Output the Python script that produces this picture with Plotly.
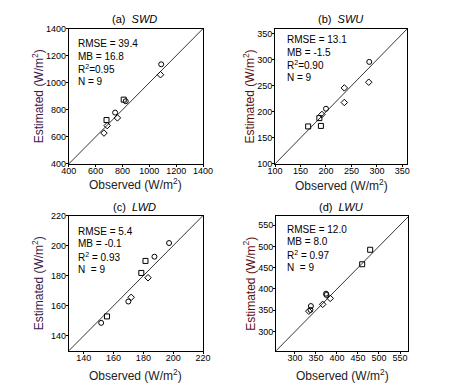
import plotly.graph_objects as go

# the page body has an 8px margin, so the figure is drawn 8px in from the corner
OFF = 8
W, H = 452 - OFF, 387 - OFF

# ---------------- data ----------------
swd_obs = [1088, 1083, 809, 824, 745, 762, 681, 686, 662]
swd_est = [1136, 1059, 875, 863, 779, 740, 724, 683, 628]
swd_sym = ["circle", "diamond", "square", "circle", "circle", "diamond", "square", "diamond", "diamond"]

swu_obs = [285, 284, 236, 236, 200, 192, 187, 190, 165]
swu_est = [296, 257, 246, 218, 206, 195, 188, 173, 172]
swu_sym = ["circle", "diamond", "diamond", "diamond", "circle", "diamond", "square", "square", "square"]

lwd_obs = [197.2, 187.4, 181.4, 178.6, 183.1, 171.8, 169.9, 155.6, 151.7]
lwd_est = [201.7, 192.6, 189.8, 181.8, 178.6, 165.6, 162.8, 152.9, 148.6]
lwd_sym = ["circle", "circle", "square", "square", "diamond", "diamond", "circle", "square", "circle"]

lwu_obs = [479, 460, 374, 375, 384, 366, 338, 337, 333]
lwu_est = [492, 458, 389, 386, 378, 364, 360, 351, 348]
lwu_sym = ["square", "square", "circle", "circle", "diamond", "diamond", "circle", "circle", "diamond"]

panel_letters = ["(a)", "(b)", "(c)", "(d)"]
panel_names = ["SWD", "SWU", "LWD", "LWU"]
stats = [
    ["RMSE = 39.4", "MB = 16.8", "R<sup>2</sup>=0.95", "N = 9"],
    ["RMSE = 13.1", "MB = -1.5", "R<sup>2</sup>=0.90", "N = 9"],
    ["RMSE = 5.4", "MB = -0.1", "R<sup>2</sup> = 0.93", "N  = 9"],
    ["RMSE = 12.0", "MB = 8.0", "R<sup>2</sup> = 0.97", "N  = 9"],
]
ranges = [[400, 1400], [100, 360], [130, 220], [255, 570]]
tick_vals = [
    [400, 600, 800, 1000, 1200, 1400],
    [100, 150, 200, 250, 300, 350],
    [140, 160, 180, 200, 220],
    [300, 350, 400, 450, 500, 550],
]

obs_all = [swd_obs, swu_obs, lwd_obs, lwu_obs]
est_all = [swd_est, swu_est, lwd_est, lwu_est]
sym_all = [swd_sym, swu_sym, lwd_sym, lwu_sym]

# ---------------- layout (pixel boxes in the window) ----------------
boxes = [(63, 203, 24, 163), (278, 416, 24, 163), (63, 203, 216, 355), (279, 417, 217, 355)]
title_y = [14, 14, 207, 207]
xtitle_y = [184, 185, 380, 380]
ytitle_x = [31, 251, 31, 251]
ytitle_col = ["#3a1a48", "#5a1010", "#3a1a48", "#5a1010"]
stat_x = [71, 288, 71, 288]
stat_y0 = [39, 35, 232, 230]
stat_dy = 13.2

FONT = "Liberation Sans, Arial, sans-serif"

def px(x):
    return (x - OFF) / W

def py(y):
    return 1 - (y - OFF) / H

fig = go.Figure()
layout = dict(
    width=W, height=H, margin=dict(l=0, r=0, t=0, b=0),
    paper_bgcolor="white", plot_bgcolor="white", showlegend=False,
    font=dict(family=FONT, size=9, color="black"),
)
annotations = []

for i in range(4):
    xa = "x" if i == 0 else f"x{i+1}"
    ya = "y" if i == 0 else f"y{i+1}"
    xl, xr, yt, yb = boxes[i]
    r = ranges[i]
    # 1:1 line
    fig.add_trace(go.Scatter(x=r, y=r, mode="lines", line=dict(color="black", width=0.8),
                             xaxis=xa, yaxis=ya, hoverinfo="skip"))
    fig.add_trace(go.Scatter(x=obs_all[i], y=est_all[i], mode="markers",
                             marker=dict(symbol=[s + "-open" for s in sym_all[i]], size=5,
                                         color="black", line=dict(color="black", width=1)),
                             xaxis=xa, yaxis=ya))
    axcommon = dict(range=r, showgrid=False, zeroline=False, showline=True, mirror=True,
                    linecolor="black", linewidth=1, ticks="outside", ticklen=2,
                    tickcolor="black", tickvals=tick_vals[i],
                    tickfont=dict(family=FONT, size=9, color="black"))
    layout["xaxis" if i == 0 else f"xaxis{i+1}"] = dict(
        axcommon, domain=[px(xl), px(xr)], anchor=ya, ticklabelstandoff=-4)
    layout["yaxis" if i == 0 else f"yaxis{i+1}"] = dict(
        axcommon, domain=[py(yb), py(yt)], anchor=xa, ticklabelstandoff=-2)

    cx = (xl + xr) / 2
    annotations.append(dict(xref="paper", yref="paper", x=px(cx - 1), y=py(title_y[i]),
                            text=f"{panel_letters[i]}  <i>{panel_names[i]}</i>", showarrow=False,
                            xanchor="center", yanchor="middle",
                            font=dict(family=FONT, size=11, color="black")))
    annotations.append(dict(xref="paper", yref="paper", x=px(cx), y=py(xtitle_y[i]),
                            text="Observed (W/m<sup>2</sup>)", showarrow=False,
                            xanchor="center", yanchor="middle",
                            font=dict(family=FONT, size=12, color="#222222")))
    annotations.append(dict(xref="paper", yref="paper", x=px(ytitle_x[i]), y=py((yt + yb) / 2),
                            text="Estimated (W/m<sup>2</sup>)", showarrow=False, textangle=-90,
                            xanchor="center", yanchor="middle",
                            font=dict(family=FONT, size=12, color=ytitle_col[i])))
    for k, line in enumerate(stats[i]):
        annotations.append(dict(xref="paper", yref="paper", x=px(stat_x[i]),
                                y=py(stat_y0[i] + k * stat_dy),
                                text=line, showarrow=False, xanchor="left", yanchor="middle",
                                font=dict(family=FONT, size=10, color="black")))

layout["annotations"] = annotations
fig.update_layout(**layout)
fig.write_html("out.html")
